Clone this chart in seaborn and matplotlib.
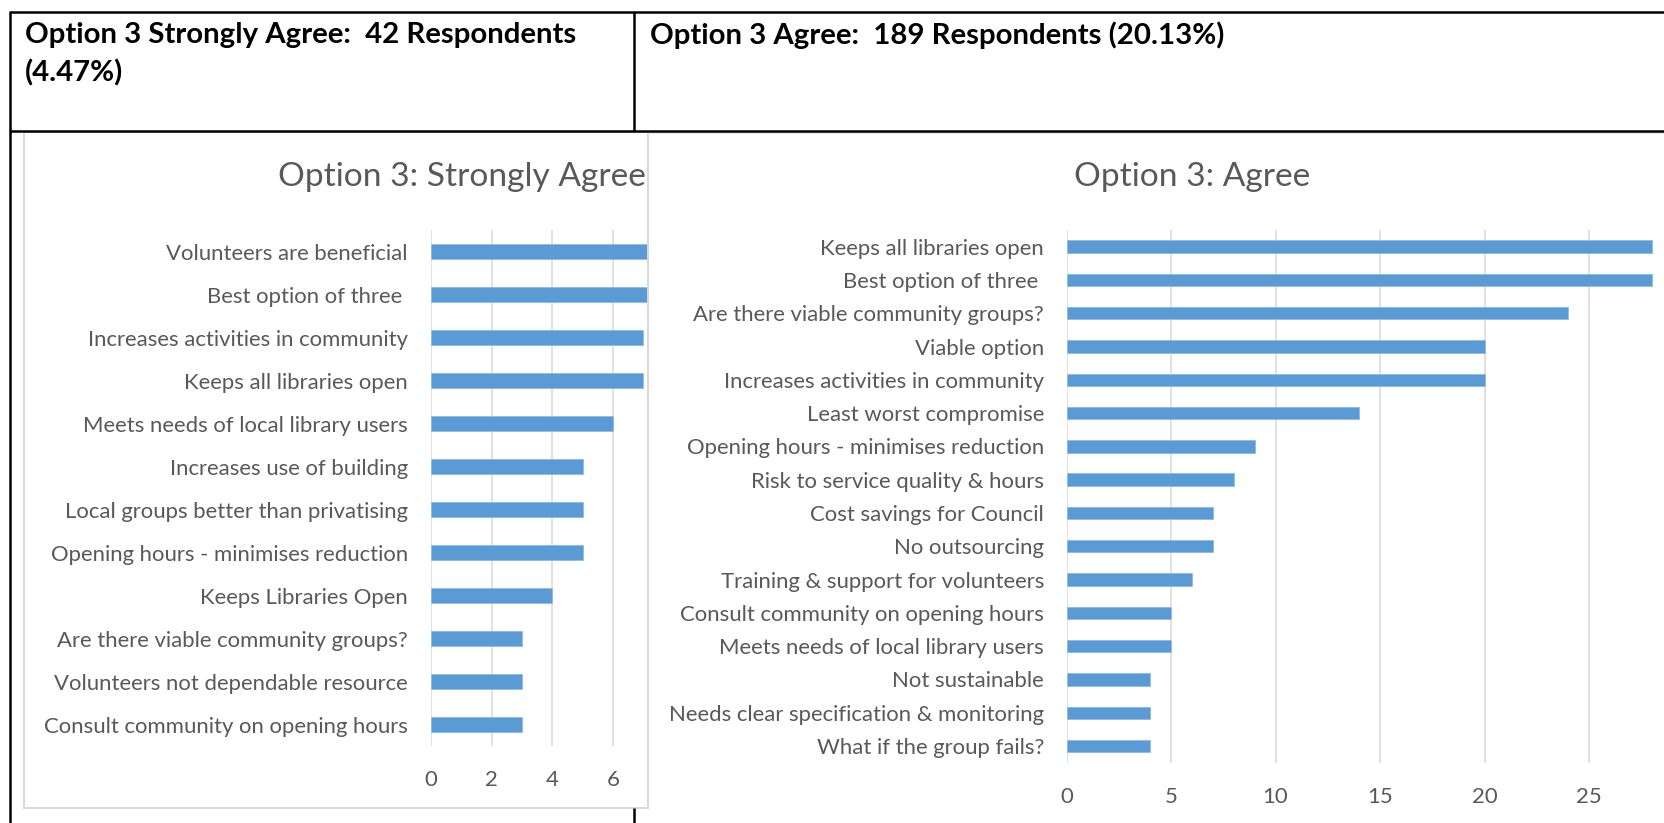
import matplotlib
matplotlib.use("Agg")
import matplotlib.pyplot as plt
from matplotlib.lines import Line2D
from matplotlib.patches import Rectangle
import pandas as pd
import seaborn as sns

# ---- data ----
strong_labels = [
    "Volunteers are beneficial",
    "Best option of three ",
    "Increases activities in community",
    "Keeps all libraries open",
    "Meets needs of local library users",
    "Increases use of building",
    "Local groups better than privatising",
    "Opening hours - minimises reduction",
    "Keeps Libraries Open",
    "Are there viable community groups?",
    "Volunteers not dependable resource",
    "Consult community on opening hours",
]
strong_counts = [8, 8, 7, 7, 6, 5, 5, 5, 4, 3, 3, 3]

agree_labels = [
    "Keeps all libraries open",
    "Best option of three ",
    "Are there viable community groups?",
    "Viable option",
    "Increases activities in community",
    "Least worst compromise",
    "Opening hours - minimises reduction",
    "Risk to service quality & hours",
    "Cost savings for Council",
    "No outsourcing",
    "Training & support for volunteers",
    "Consult community on opening hours",
    "Meets needs of local library users",
    "Not sustainable",
    "Needs clear specification & monitoring",
    "What if the group fails?",
]
agree_counts = [28, 28, 24, 20, 20, 14, 9, 8, 7, 7, 6, 5, 5, 4, 4, 4]

# axis ranges and the tick values that fall inside the visible area
strong_xmax = 8
agree_xmax = 30
strong_ticks = [0, 2, 4, 6]
agree_ticks = [0, 5, 10, 15, 20, 25]

header_left = ["Option 3 Strongly Agree:  42 Respondents", "(4.47%)"]
header_right = "Option 3 Agree:  189 Respondents (20.13%)"
title_left = "Option 3: Strongly Agree"
title_right = "Option 3: Agree"

# ---- style ----
BLUE = "#5B9BD5"
GREY_TXT = "#595959"
GRID = "#D9D9D9"
W, H = 1664, 823

sns.set_theme(style="white")
plt.rcParams["font.family"] = ["Lato", "DejaVu Sans"]

fig = plt.figure(figsize=(W / 100, H / 100), dpi=100)
fig.patch.set_facecolor("white")
renderer = fig.canvas.get_renderer()


def fit_size(s, width_px, weight="normal"):
    t = fig.text(0, 0, s, fontsize=10, fontweight=weight)
    w = t.get_window_extent(renderer).width
    t.remove()
    return 10 * width_px / w


def fx(x):
    return x / W


def fy(y):
    return 1 - y / H


def axes_rect(x0, y0, x1, y1):
    return [fx(x0), fy(y1), (x1 - x0) / W, (y1 - y0) / H]


label_fs = fit_size("Consult community on opening hours", 366)
title_fs = fit_size(title_left, 367)
head_fs = fit_size(header_left[0], 553, weight="bold")


def draw_bars(ax, labels, counts, xmax, ticks, pad_px):
    df = pd.DataFrame({"label": labels, "count": counts})
    sns.barplot(data=df, x="count", y="label", orient="h", color=BLUE,
                saturation=1, width=0.37, ax=ax, edgecolor="#8DBBE6",
                linewidth=0.6, zorder=3)
    ax.set_xlim(0, xmax)
    ax.set_xticks(ticks)
    ax.set_ylim(len(labels) - 0.5, -0.5)
    ax.set_xlabel("")
    ax.set_ylabel("")
    # vertical gridlines across the whole value range
    for v in range(0, xmax + 1, ticks[1] - ticks[0]):
        ax.axvline(v, color=GRID, linewidth=1.1, zorder=1)
    ax.grid(False)
    for sp in ax.spines.values():
        sp.set_visible(False)
    ax.tick_params(axis="y", length=0, pad=pad_px * 0.72,
                   labelcolor=GREY_TXT, labelsize=label_fs)
    ax.tick_params(axis="x", length=0, pad=24 * 0.72,
                   labelcolor=GREY_TXT, labelsize=label_fs)
    ax.patch.set_visible(False)


# left chart: "Strongly Agree"
ax_l = fig.add_axes(axes_rect(431, 230, 431 + strong_xmax * 30.3, 746))
ax_l.set_zorder(0)
draw_bars(ax_l, strong_labels, strong_counts, strong_xmax, strong_ticks, 23)

fig.text(fx(461.5), fy(177), title_left, ha="center", va="center",
         color=GREY_TXT, fontsize=title_fs, zorder=0.5)

# left chart frame
fig.add_artist(Rectangle((fx(24), fy(808)), (648 - 24) / W, (808 - 132) / H,
                         transform=fig.transFigure, facecolor="none",
                         edgecolor=GRID, linewidth=1.4, zorder=0.6))

# right chart sits on top of the left one
fig.add_artist(Rectangle((fx(649), 0), 1 - fx(649), fy(132),
                         transform=fig.transFigure, facecolor="white",
                         edgecolor="none", zorder=1))
fig.add_artist(Line2D([fx(648), fx(648)], [fy(132), fy(808)],
                      transform=fig.transFigure, color=GRID, lw=1.4,
                      zorder=1.1))
fig.add_artist(Line2D([fx(648), 1], [fy(132.5), fy(132.5)],
                      transform=fig.transFigure, color="#E6E6E6", lw=1.4,
                      zorder=1.1))

ax_r = fig.add_axes(axes_rect(1066.5, 230, 1066.5 + agree_xmax * 20.9, 762.6))
ax_r.set_zorder(2)
draw_bars(ax_r, agree_labels, agree_counts, agree_xmax, agree_ticks, 22.5)

fig.text(fx(1192), fy(177), title_right, ha="center", va="center",
         color=GREY_TXT, fontsize=title_fs, zorder=2.5)

# ---- table header cells ----
fig.text(fx(25), fy(35), header_left[0], ha="left", va="center",
         fontsize=head_fs, fontweight="bold", color="black", zorder=4)
fig.text(fx(25), fy(73), header_left[1], ha="left", va="center",
         fontsize=head_fs, fontweight="bold", color="black", zorder=4)
fig.text(fx(650), fy(35), header_right, ha="left", va="center",
         fontsize=head_fs, fontweight="bold", color="black", zorder=4)

table_lines = [
    ([10, W], [12, 12]),
    ([10, W], [131, 131]),
    ([10, 10], [11, H]),
    ([634, 634], [12, 131]),
    ([633.5, 633.5], [808, H]),
]
for xs, ys in table_lines:
    fig.add_artist(Line2D([fx(x) for x in xs], [fy(y) for y in ys],
                          transform=fig.transFigure, color="black",
                          lw=1.8, solid_capstyle="butt", zorder=5))

fig.savefig("out.png", dpi=100, facecolor="white")
